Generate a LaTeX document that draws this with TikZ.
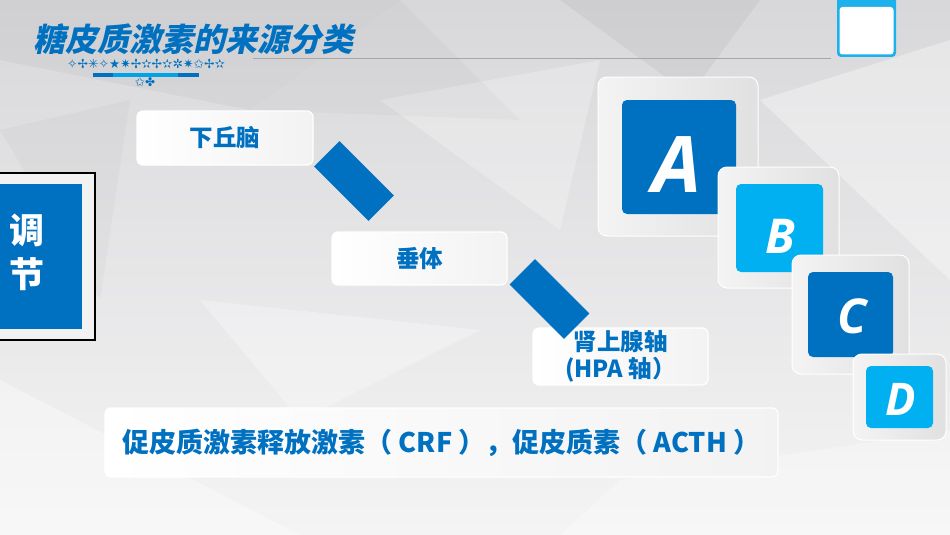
\documentclass[tikz,border=0pt]{standalone}
\usepackage{fontspec}
\setmainfont{Open Sans}
\newfontfamily\cjk{Noto Sans CJK SC}
\newfontfamily\cjktitle{Noto Sans CJK SC}[FakeSlant=0.22]
\newfontfamily\sym{DejaVu Sans}
\usetikzlibrary{calc,positioning}
\definecolor{dblue}{HTML}{0070C0}
\definecolor{lblue}{HTML}{00B0F0}
\definecolor{frameblue}{HTML}{1CB0EC}
\definecolor{bgtop}{HTML}{D8D8DA}
\definecolor{bgbot}{HTML}{F4F4F5}

\begin{document}
\begin{tikzpicture}[x=1pt,y=-1pt,
    labelbox/.style={rounded corners=6pt,draw=white,line width=1.2pt,left color=white,right color=gray!10,
      text=dblue,font=\cjk\bfseries\fontsize{23.5}{28}\selectfont,align=center,inner sep=0pt},
    link/.style={fill=dblue,minimum width=77pt,minimum height=36pt,rotate=-45,inner sep=0pt},
    outerbox/.style={rounded corners=9pt,draw=white,line width=1pt,left color=gray!9,right color=gray!24},
    innerbox/.style={rounded corners=5pt,fill=#1},
    letter/.style={text=white,font=\bfseries\itshape\fontsize{#1}{#1}\selectfont,anchor=base,inner sep=0pt}]

  % background
  \useasboundingbox (0,0) rectangle (950,535);
  \shade[top color=bgtop,bottom color=bgbot] (0,0) rectangle (950,535);
  \fill[black,opacity=.035] (0,0)--(400,0)--(250,110)--(0,60)--cycle;
  \fill[black,opacity=.045] (560,0)--(760,0)--(690,95)--cycle;
  \fill[white,opacity=.35] (760,100)--(950,40)--(950,280)--cycle;
  \fill[white,opacity=.25] (380,100)--(600,60)--(560,230)--cycle;
  \fill[white,opacity=.3] (200,300)--(480,330)--(300,420)--cycle;
  \fill[black,opacity=.025] (0,130)--(130,100)--(100,300)--cycle;
  \fill[white,opacity=.35] (0,380)--(300,535)--(0,535)--cycle;
  \fill[black,opacity=.025] (250,110)--(400,0)--(520,120)--cycle;
  \fill[white,opacity=.3] (620,480)--(950,430)--(950,535)--(560,535)--cycle;

  % title
  \node[anchor=base west,inner sep=0pt,text=dblue,font=\cjktitle\bfseries\fontsize{32}{32}\selectfont] (title) at (33,52) {糖皮质激素的来源分类};
  \node[anchor=west,inner sep=0pt,text=dblue,font=\sym\fontsize{12.5}{13}\selectfont] (stars) at (67,64) {✧✢✳✧★✷✢✫✢✫✲✷✩✢✫};
  \fill[dblue] (93,73) rectangle (113,77);
  \fill[lblue!80!dblue] (113,73) rectangle (178,77);
  \fill[dblue] (178,73) rectangle (199,77);
  \node[inner sep=0pt,text=dblue,font=\sym\fontsize{12}{12}\selectfont] (stars2) at (145,82) {✩✤};
  \draw[gray!70,line width=1pt] (253,59) -- (831,59);

  % corner tab
  \fill[frameblue,rounded corners=4pt] (837,-6) rectangle (896,57);
  \fill[white,rounded corners=3pt] (839.5,7) rectangle (893.5,54.5);

  % regulation tab
  \draw[line width=1.5pt,fill=gray!10] (-5,173) rectangle (95,340);
  \fill[dblue] (-5,184) rectangle (82,329);
  \node[text=white,font=\cjk\bfseries\fontsize{35}{44}\selectfont,align=center,inner sep=0pt] (reg) at (27,252) {调\\节};

  % axis chain
  \node[labelbox,minimum width=176pt,minimum height=54pt] (hypo) at (225,138) {下丘脑};
  \node[labelbox,minimum width=175pt,minimum height=53pt] (pit) at (419.5,258.5) {垂体};
  \node[labelbox,minimum width=175pt,minimum height=57pt,font=\cjk\bfseries\fontsize{23.5}{27}\selectfont] (hpa) at (620.5,356.5) {肾上腺轴\\(HPA 轴）};
  \node[link] (link1) at (354,181) {};
  \node[link] (link2) at (549.5,299) {};
  \node[labelbox,minimum width=673pt,minimum height=69pt,font=\cjk\bfseries\fontsize{27}{30}\selectfont] (hormones) at (441.5,442.5) {促皮质激素释放激素（ CRF ），促皮质素（ ACTH ）};

  % letter blocks
  \node[outerbox,minimum width=160pt,minimum height=159pt] (outA) at (678,156.5) {};
  \node[innerbox=dblue,minimum width=114pt,minimum height=114pt] (boxA) at (679,157) {};
  \node[outerbox,minimum width=121pt,minimum height=121pt] (outB) at (778.5,227.5) {};
  \node[innerbox=lblue,minimum width=87pt,minimum height=88pt] (boxB) at (779.5,228) {};
  \node[outerbox,minimum width=117pt,minimum height=119pt] (outC) at (850.5,314.5) {};
  \node[innerbox=dblue,minimum width=85pt,minimum height=85pt] (boxC) at (850.5,314.5) {};
  \node[outerbox,minimum width=93pt,minimum height=86pt] (outD) at (899.5,397) {};
  \node[innerbox=lblue,minimum width=67pt,minimum height=62pt] (boxD) at (899.5,397) {};
  \node[letter=78] (letA) at (677,192) {A};
  \node[letter=48] (letB) at (780,253) {B};
  \node[letter=48] (letC) at (852,333) {C};
  \node[letter=45] (letD) at (901,415) {D};
\end{tikzpicture}
\end{document}
